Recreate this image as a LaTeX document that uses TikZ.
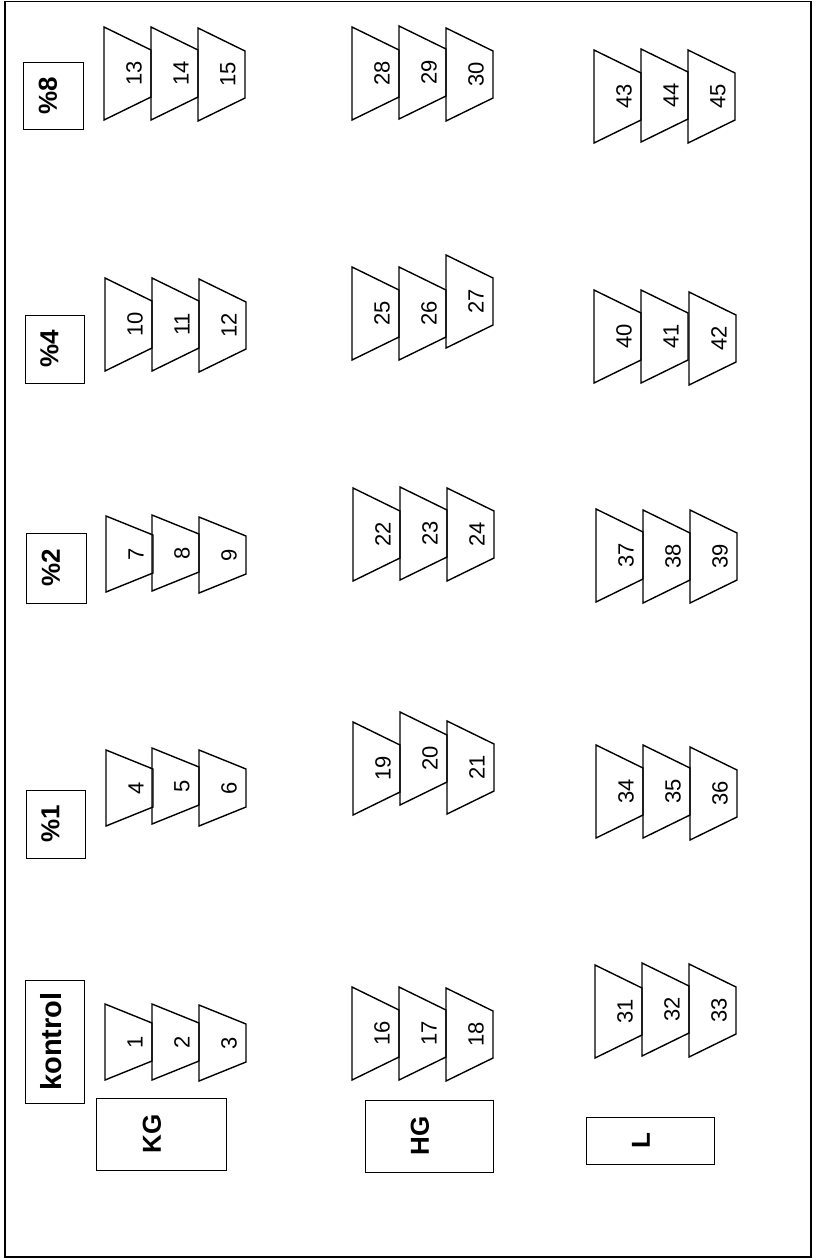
\documentclass[tikz,border=0pt]{standalone}
\usepackage{fontspec}
\setmainfont{Liberation Sans}
\usepackage{tikz}
\newcommand{\numsize}{\fontsize{11}{13}\selectfont}
\newcommand{\labsize}{\fontsize{13}{15}\selectfont\bfseries}
\newcommand{\kontsize}{\fontsize{14.5}{16}\selectfont\bfseries}

\begin{document}
\begin{tikzpicture}[x=0.5pt,y=-0.5pt,
  trap/.style={draw,line width=0.7pt,line join=miter},
  num/.style={rotate=90,inner sep=0pt,font=\numsize},
  box/.style={draw,line width=0.5pt,rotate=90,inner sep=0pt},
  lab/.style={rotate=90,inner sep=0pt,font=\labsize}]
  \useasboundingbox (0,0) rectangle (815,1260);
  % ---- outer frame ----
  \draw[line width=0.6pt] (5,1.5) rectangle (811,1257);
  % ---- small pots 1--9 ----
  \foreach \n/\x/\y in {1/105/1004,2/152/1004,3/199/1005,
                        4/106/750,5/152/748,6/199/750,
                        7/106/516,8/152/515,9/199/517}{
    \draw[trap] (\x,\y) -- ++(47,19) -- ++(0,38) -- ++(-47,19) -- cycle;
    \node[num] (t\n) at ({\x+30},{\y+38}) {\n};
  }
  % ---- big pots 10--45 ----
  \foreach \n/\x/\y in {10/105/278,11/152/278,12/199/279,
                        13/104/27,14/151/27,15/198/28,
                        16/352/987,17/399/987,18/446/988,
                        19/353/722,20/400/712,21/447/721,
                        22/353/488,23/400/487,24/447/488,
                        25/352/267,26/399/267,27/446/255,
                        28/352/27,29/399/26,30/446/28,
                        31/595/965,32/642/963,33/689/964,
                        34/596/745,35/643/745,36/690/747,
                        37/596/509,38/643/510,39/690/510,
                        40/594/290,41/641/290,42/689/292,
                        43/594/50,44/641/49,45/688/50}{
    \draw[trap] (\x,\y) -- ++(47,23) -- ++(0,47) -- ++(-47,23) -- cycle;
    \node[num] (t\n) at ({\x+30},{\y+46.5}) {\n};
  }
  % ---- dose labels ----
  \node[box,minimum width=33.5pt,minimum height=30pt] (p8) at (53,95.5) {};
  \node[lab] (p8l) at (48,95.5) {\%8};
  \node[box,minimum width=34pt,minimum height=29.5pt] (p4) at (54.5,349) {};
  \node[lab] (p4l) at (49.5,349) {\%4};
  \node[box,minimum width=35pt,minimum height=30pt] (p2) at (56,568) {};
  \node[lab] (p2l) at (51,568) {\%2};
  \node[box,minimum width=34pt,minimum height=29.5pt] (p1) at (55.5,824) {};
  \node[lab] (p1l) at (50.5,824) {\%1};
  \node[box,minimum width=61.5pt,minimum height=29.5pt] (kon) at (54.5,1041.5) {};
  \node[lab,font=\kontsize] (konl) at (51.5,1041.5) {kontrol};
  % ---- group labels ----
  \node[box,minimum width=36pt,minimum height=65pt] (kg) at (161,1134) {};
  \node[lab] (kgl) at (152,1134) {KG};
  \node[box,minimum width=36pt,minimum height=64pt] (hg) at (429,1136) {};
  \node[lab] (hgl) at (420,1136) {HG};
  \node[box,minimum width=23.5pt,minimum height=64pt] (lg) at (650,1140.5) {};
  \node[lab] (lgl) at (641,1140.5) {L};
\end{tikzpicture}
\end{document}
